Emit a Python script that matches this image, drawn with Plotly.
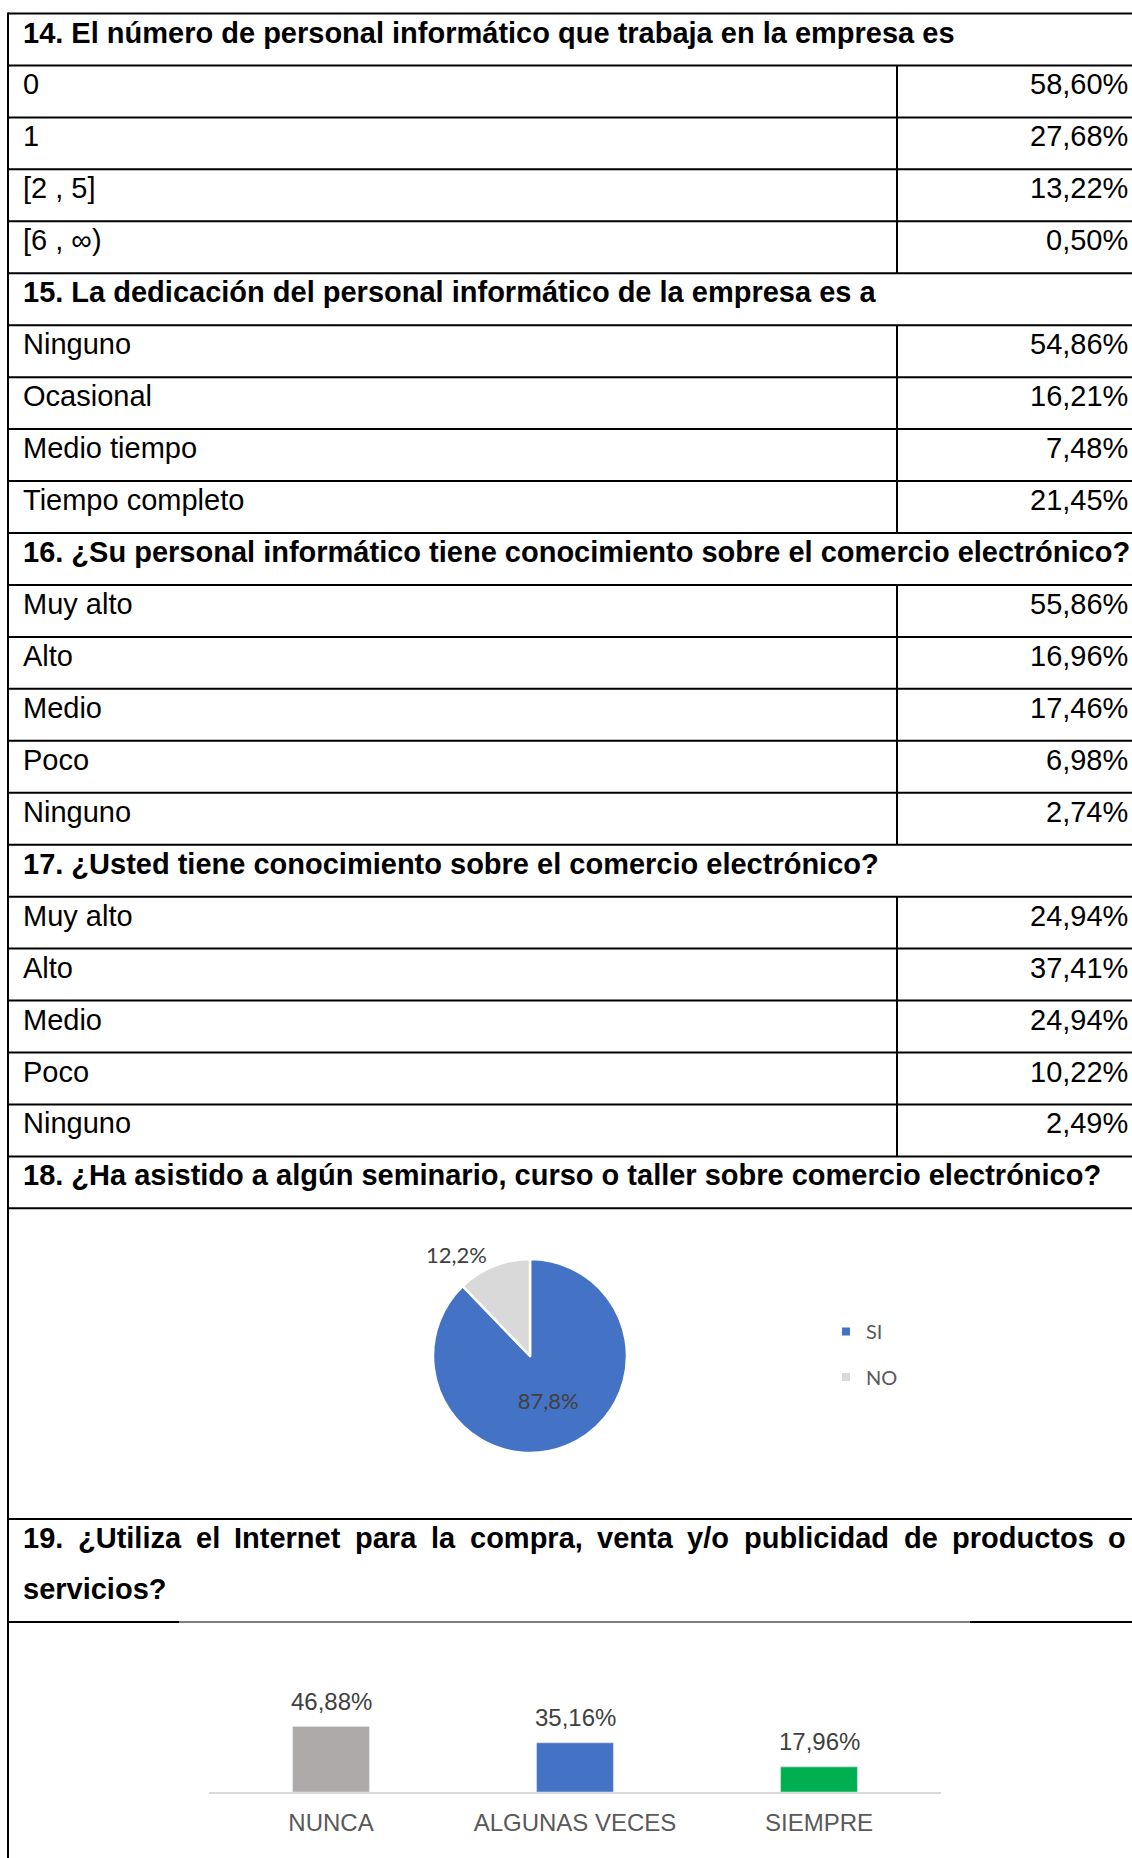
import plotly.graph_objects as go

# ---------------- data ----------------
q_titles = [
    "14. El número de personal informático que trabaja en la empresa es",
    "15. La dedicación del personal informático de la empresa es a",
    "16. ¿Su personal informático tiene conocimiento sobre el comercio electrónico?",
    "17. ¿Usted tiene conocimiento sobre el comercio electrónico?",
]
q14_options = ["0", "1", "[2 , 5]", "[6 , ∞)"]
q14_values = [58.60, 27.68, 13.22, 0.50]
q15_options = ["Ninguno", "Ocasional", "Medio tiempo", "Tiempo completo"]
q15_values = [54.86, 16.21, 7.48, 21.45]
q16_options = ["Muy alto", "Alto", "Medio", "Poco", "Ninguno"]
q16_values = [55.86, 16.96, 17.46, 6.98, 2.74]
q17_options = ["Muy alto", "Alto", "Medio", "Poco", "Ninguno"]
q17_values = [24.94, 37.41, 24.94, 10.22, 2.49]

q18_title = "18. ¿Ha asistido a algún seminario, curso o taller sobre comercio electrónico?"
pie_labels = ["SI", "NO"]
pie_values = [87.8, 12.2]

q19_title = "19. ¿Utiliza el Internet para la compra, venta y/o publicidad de productos o servicios?"
bar_categories = ["NUNCA", "ALGUNAS VECES", "SIEMPRE"]
bar_values = [46.88, 35.16, 17.96]

# ---------------- styles ----------------
pie_colors = ["#4472C4", "#D9D9D9"]
bar_colors = ["#AEAAAA", "#4472C4", "#00B050"]
W, H = 1132, 1858
TABLE_FONT = "Liberation Sans, Arial, sans-serif"
CHART_FONT = "Lato, Carlito, Calibri, sans-serif"
FS = 29
TOP, ROW = 13.5, 51.95
LEFT, RIGHT, DIV = 8, W, 897
TXT_L, TXT_R = 21, 1130
PIE_TOP, Q19_TOP, Q19_BOT = 1208, 1519, 1622


def px(x):
    return x / W


def py(y):
    return 1 - y / H


def pct(v, nd=2):
    return f"{v:.{nd}f}".replace(".", ",") + "%"


# Arial Bold advance widths (per 1000 em) for the justified line
AB = {'1': 556, '9': 556, '.': 278, '¿': 611, 'U': 722, 't': 333, 'i': 278, 'l': 278,
      'z': 500, 'a': 556, 'e': 556, 'I': 278, 'n': 611, 'r': 389, 'p': 611, 'c': 556,
      'o': 611, 'm': 889, ',': 278, 'v': 556, 'y': 556, '/': 278, 'u': 611, 'b': 611,
      'd': 611, 's': 556, '?': 611}


def wbold(word):
    return sum(AB.get(ch, 556) for ch in word) * FS / 1000.0


fig = go.Figure()
shapes = []
annotations = []


def hline(y, x0=LEFT, x1=RIGHT, w=2):
    shapes.append(dict(type="line", xref="paper", yref="paper", x0=px(x0), x1=px(x1),
                       y0=py(y), y1=py(y), line=dict(color="black", width=w)))


def vline(x, y0, y1, w=2):
    shapes.append(dict(type="line", xref="paper", yref="paper", x0=px(x), x1=px(x),
                       y0=py(y0), y1=py(y1), line=dict(color="black", width=w)))


def text(x, y, s, anchor="left", bold=False, size=FS, color="black", family=TABLE_FONT):
    annotations.append(dict(xref="paper", yref="paper", x=px(x), y=py(y),
                            text=f"<b>{s}</b>" if bold else s, showarrow=False,
                            xanchor=anchor, yanchor="middle",
                            font=dict(family=family, size=size, color=color)))


# ---------------- table ----------------
rows = []
for title, opts, vals in zip(q_titles, [q14_options, q15_options, q16_options, q17_options],
                             [q14_values, q15_values, q16_values, q17_values]):
    rows.append(("h", title, None))
    for o, v in zip(opts, vals):
        rows.append(("d", o, v))
rows.append(("h", q18_title, None))

for k, (kind, lab, val) in enumerate(rows):
    y0 = TOP + ROW * k
    y1 = y0 + ROW
    hline(y0)
    if kind == "h":
        text(TXT_L, y0 + 19, lab, bold=True)
    else:
        vline(DIV, y0, y1)
        text(TXT_L, y0 + 19, lab)
        text(TXT_R, y0 + 19, pct(val), anchor="right")
hline(TOP + ROW * len(rows))
vline(LEFT, TOP - 1, H)

# Q19 header (justified first line)
hline(Q19_TOP)
words = q19_title.split()
line1, line2 = words[:-1], words[-1]
total = sum(wbold(w_) for w_ in line1)
gap = (TXT_R - 3 - (TXT_L + 3) - total) / (len(line1) - 1)
xcur = TXT_L
for w_ in line1:
    text(xcur, Q19_TOP + 19, w_, bold=True)
    xcur += wbold(w_) + gap
text(TXT_L, Q19_TOP + 70, line2, bold=True)
hline(Q19_BOT, LEFT, 179)
hline(Q19_BOT, 179, 970, w=1)
hline(Q19_BOT, 970, RIGHT)

# ---------------- pie ----------------
fig.add_trace(go.Pie(
    labels=pie_labels, values=pie_values, sort=False, direction="clockwise", rotation=0,
    marker=dict(colors=pie_colors, line=dict(color="white", width=2.5)),
    texttemplate="%{percent:.1%}", textposition=["inside", "outside"],
    insidetextorientation="horizontal",
    textfont=dict(family=CHART_FONT, size=22, color="#404040"),
    domain=dict(x=[px(433), px(627)], y=[py(1453), py(1259)]),
    showlegend=False, hoverinfo="skip"))

for lab, col in zip(pie_labels, pie_colors):
    fig.add_trace(go.Scatter(x=[None], y=[None], mode="markers", name=lab, legendgroup=lab,
                             marker=dict(symbol="square", size=8, color=col),
                             xaxis="x2", yaxis="y2", hoverinfo="skip"))

# ---------------- bars ----------------
fig.add_trace(go.Bar(x=bar_categories, y=bar_values, marker=dict(color=bar_colors),
                     width=0.315, showlegend=False, hoverinfo="skip"))
for c, v in zip(bar_categories, bar_values):
    annotations.append(dict(xref="x", yref="y", x=c, y=v, text=pct(v), showarrow=False,
                            yanchor="middle", yshift=25,
                            font=dict(family=TABLE_FONT, size=24, color="#404040")))

fig.update_layout(
    width=W, height=H, autosize=False,
    margin=dict(l=0, r=0, t=0, b=0, pad=0),
    paper_bgcolor="white", plot_bgcolor="white",
    separators=",.",
    shapes=shapes, annotations=annotations,
    xaxis=dict(domain=[px(209), px(941)], range=[-0.5, 2.5], showline=True,
               linecolor="#D9D9D9", linewidth=1.5, ticks="", showgrid=False, zeroline=False,
               ticklabelstandoff=8,
               tickfont=dict(family=TABLE_FONT, size=24, color="#595959"), fixedrange=True),
    yaxis=dict(domain=[py(1792), py(1640)], range=[0, 108.6], visible=False, fixedrange=True),
    xaxis2=dict(domain=[0, 0.01], visible=False),
    yaxis2=dict(domain=[0, 0.01], visible=False, anchor="x2"),
    legend=dict(x=px(826), y=py(1312), xanchor="left", yanchor="top",
                font=dict(family=CHART_FONT, size=20, color="#595959"),
                tracegroupgap=16.5, traceorder="grouped", bgcolor="rgba(0,0,0,0)",
                itemclick=False, itemdoubleclick=False),
    hovermode=False,
)
fig.update_layout(xaxis2_anchor="y2")

fig.write_html("out.html")
